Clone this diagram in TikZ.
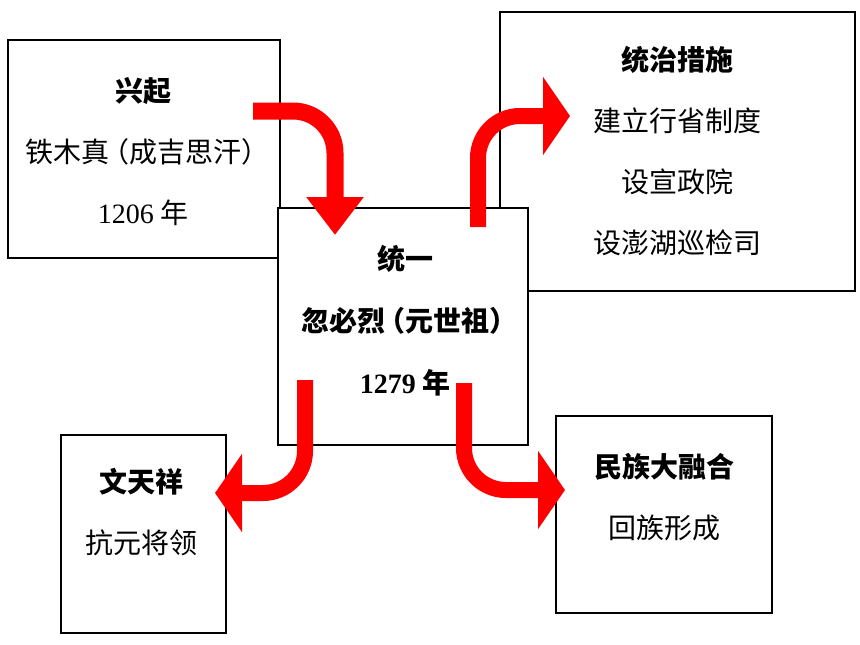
\documentclass[tikz,border=0pt]{standalone}
\usepackage{fontspec}
\setmainfont{Noto Sans CJK SC}
\newfontfamily\numfont{Liberation Serif}
\usepackage{tikz}
\usetikzlibrary{arrows.meta}
\newcommand{\lpar}{\makebox[20pt][r]{（}}
\newcommand{\rpar}{\makebox[20pt][l]{）}}

\begin{document}
\begin{tikzpicture}[x=1pt, y=-1pt,
		box/.style={draw, line width=1.5pt, fill=white, inner sep=0pt},
		txt/.style={align=center, font=\fontsize{28}{61}\selectfont},
		flow/.style={red, line width=16pt, rounded corners=42pt, -{Triangle[width=77pt,length=27pt]}}]
				\useasboundingbox (0,0) rectangle (860,645);
				
				\node[box, minimum width=272pt, minimum height=218pt] (rise) at (144,149) {};
				\node[box, minimum width=355pt, minimum height=279pt] (rule) at (677.5,151.5) {};
				\node[box, minimum width=250pt, minimum height=237pt] (unify) at (403,326.5) {};
				\node[box, minimum width=165pt, minimum height=198pt] (wen) at (143.5,534) {};
				\node[box, minimum width=216pt, minimum height=197pt] (fusion) at (664,514.5) {};
				
				\node[txt] (riseT) at (143,152) {\textbf{兴起}\\铁木真\lpar 成吉思汗\rpar\\{\numfont 1206} 年};
				\node[txt] (ruleT) at (677,151) {\textbf{统治措施}\\建立行省制度\\设宣政院\\设澎湖巡检司};
				\node[txt, font=\bfseries\fontsize{28}{62}\selectfont] (unifyT) at (405,320.5) {统一\\忽必烈\lpar 元世祖\rpar\\{\numfont 1279} 年};
				\node[txt] (wenT) at (141,512.5) {\textbf{文天祥}\\抗元将领};
				\node[txt] (fusionT) at (664,497) {\textbf{民族大融合}\\回族形成};
				
				\coordinate (s1) at (253,111);
				\coordinate (s2) at (478,227);
				\coordinate (s3) at (305,380);
				\coordinate (s4) at (464,383);
				\coordinate (t1) at (335,235);
				\coordinate (t2) at (570,116);
				\coordinate (t3) at (215,493);
				\coordinate (t4) at (565,490);
				
				\draw[flow, line width=17pt, -{Triangle[width=55pt,length=38pt]}]  (s1) -| (t1);
				\draw[flow]  (s2) |- (t2);
				\draw[flow]  (s3) |- (t3);
				\draw[flow]  (s4) |- (t4);
			\end{tikzpicture}
\end{document}
